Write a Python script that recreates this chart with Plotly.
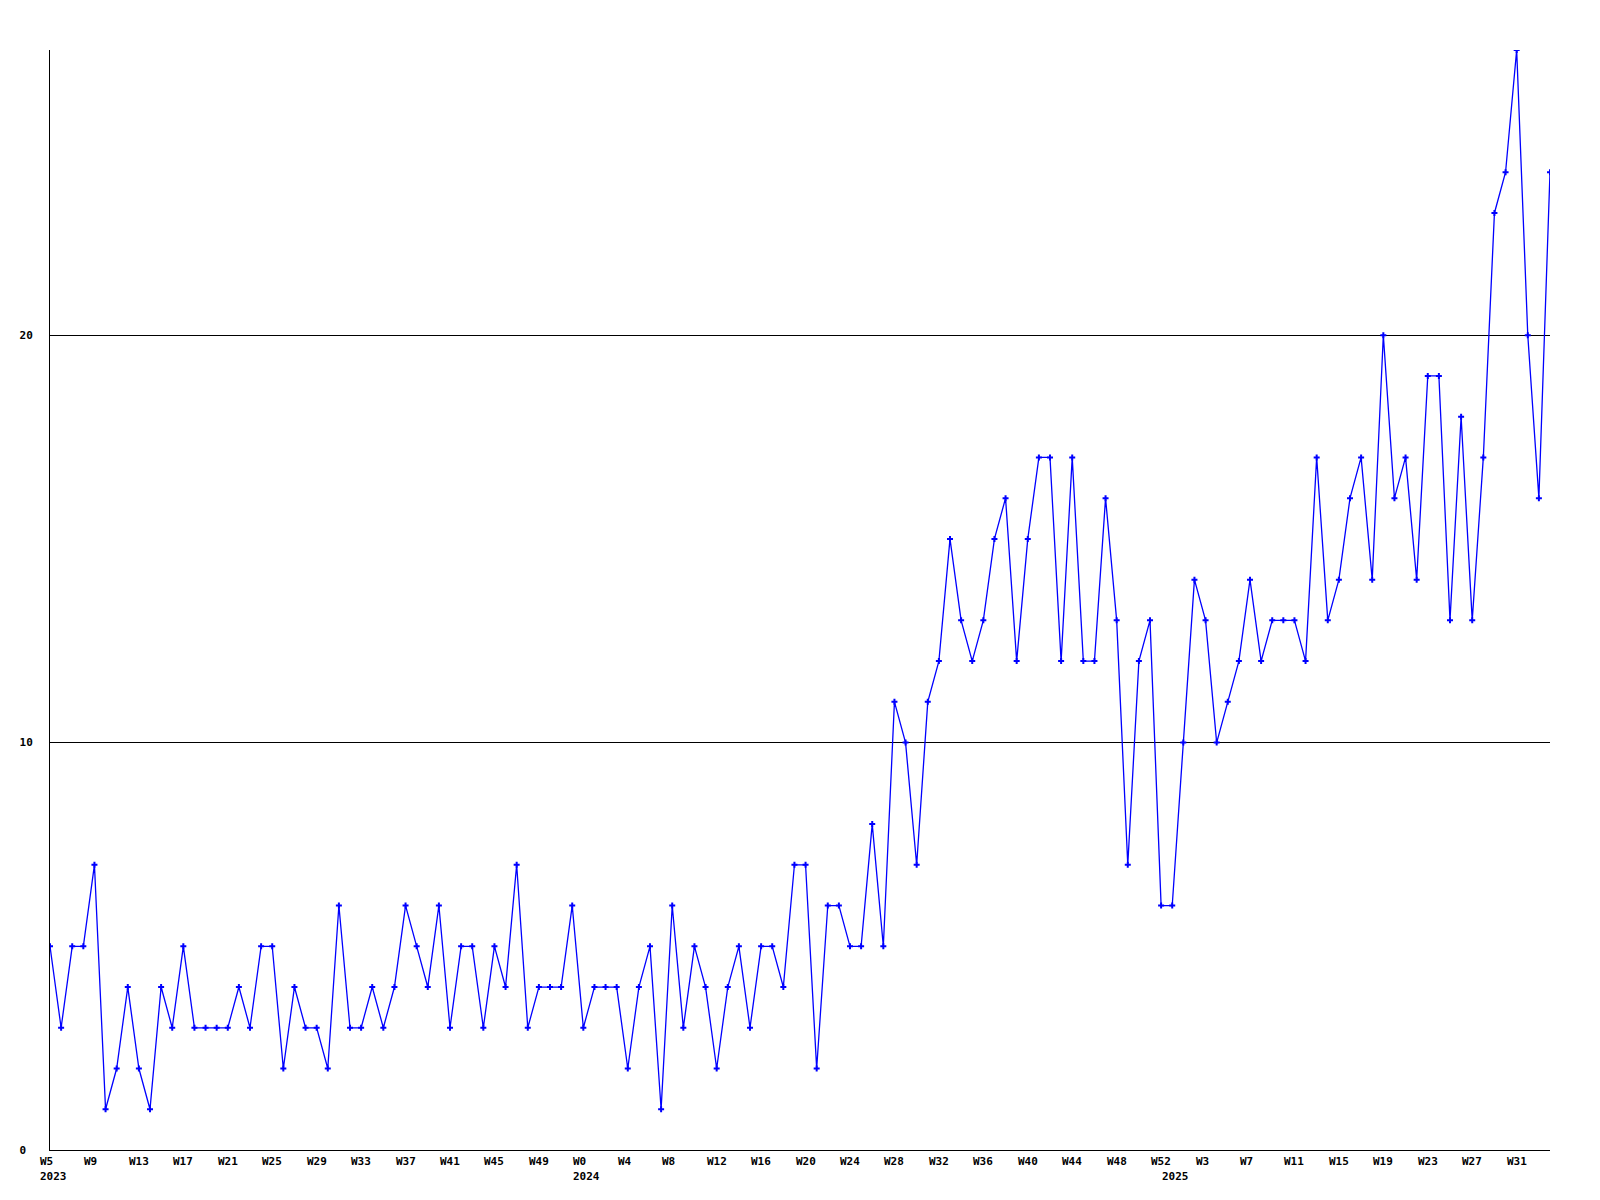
import plotly.graph_objects as go

# ---- data ----
YEARS = [2023, 2024, 2025]
FIRST_WEEK = [5, 0, 0]
LAST_WEEK = [52, 52, 34]

VALUES = [
    5, 3, 5, 5, 7, 1, 2, 4, 2, 1, 4, 3, 5, 3, 3, 3, 3, 4, 3, 5, 5, 2, 4, 3, 3, 2,
    6, 3, 3, 4, 3, 4, 6, 5, 4, 6, 3, 5, 5, 3, 5, 4, 7, 3, 4, 4, 4, 6,
    3, 4, 4, 4, 2, 4, 5, 1, 6, 3, 5, 4, 2, 4, 5, 3, 5, 5, 4, 7, 7, 2, 6, 6, 5, 5,
    8, 5, 11, 10, 7, 11, 12, 15, 13, 12, 13, 15, 16, 12, 15, 17, 17, 12, 17, 12,
    12, 16, 13, 7, 12, 13, 6,
    6, 10, 14, 13, 10, 11, 12, 14, 12, 13, 13, 13, 12, 17, 13, 14, 16, 17, 14,
    20, 16, 17, 14, 19, 19, 13, 18, 13, 17, 23, 24, 27, 20, 16, 24,
]
Y_TICKS = [0, 10, 20]
Y_TICK_TEXT = ["0\u00a0", "10", "20"]
LABEL_EVERY = 4

# build categories (week label, year) from the segments
weeks, years = [], []
for yr, a, b in zip(YEARS, FIRST_WEEK, LAST_WEEK):
    for w in range(a, b + 1):
        weeks.append(f"W{w}")
        years.append(yr)
x = list(range(len(VALUES)))

FONT = dict(family="DejaVu Sans Mono", size=11, color="black", weight="bold")

fig = go.Figure()
fig.add_trace(go.Scatter(
    x=x, y=VALUES, mode="lines+markers",
    line=dict(color="#0000ff", width=1.3),
    marker=dict(symbol="cross", size=5, color="#0000ff", line=dict(width=0)),
    hoverinfo="skip", showlegend=False,
))

annotations = []
for i in range(0, len(x), LABEL_EVERY):
    annotations.append(dict(
        x=i, y=-0.0109, xref="x", yref="paper", text=weeks[i],
        showarrow=False, xanchor="left", yanchor="middle", xshift=-11,
        font=FONT, borderpad=0,
    ))
for i in range(len(x)):
    if i == 0 or years[i] != years[i - 1]:
        annotations.append(dict(
            x=i, y=-0.0245, xref="x", yref="paper", text=str(years[i]),
            showarrow=False, xanchor="left", yanchor="middle", xshift=-11,
            font=FONT, borderpad=0,
        ))

fig.update_layout(
    width=1600, height=1200, autosize=False,
    margin=dict(l=42, r=58, t=42, b=58, pad=0, autoexpand=False),
    paper_bgcolor="white", plot_bgcolor="white",
    annotations=annotations,
    xaxis=dict(
        range=[0, len(x) - 1], showgrid=False, zeroline=False,
        showticklabels=False, ticks="", showline=True, automargin=False,
        linecolor="black", linewidth=1,
    ),
    yaxis=dict(
        range=[0, 27], tickvals=Y_TICKS, ticktext=Y_TICK_TEXT,
        showgrid=True, gridcolor="black", gridwidth=1, zeroline=False,
        showline=True, linecolor="black", linewidth=1, ticks="",
        tickfont=FONT, ticklabelstandoff=14, automargin=False,
    ),
)

fig.write_html("out.html")
